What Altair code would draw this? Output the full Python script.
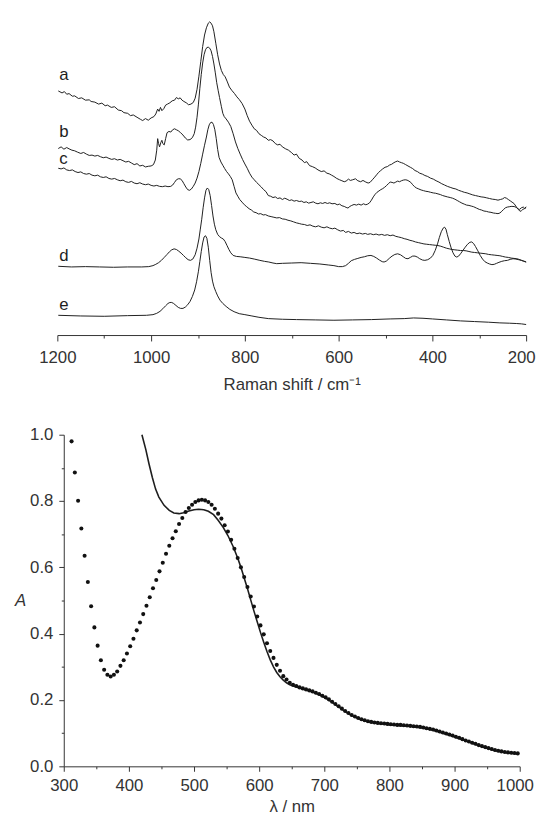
import altair as alt
import pandas as pd

# ---------------- Top panel: Raman spectra (intensity in arbitrary units) -------------
a_shift = [1198,1190,1185,1180,1175,1168,1163,1155,1148,1140,1132,1128,1120,1112,1105,1098,1093,1085,1078,1070,1063,1058,1050,1044,1038,1030,1023,1018,1012,1006,1000,994,990,986,983,980,977,973,969,965,960,955,950,946,942,938,934,930,925,920,915,910,906,902,898,894,890,886,882,878,875,872,869,866,862,858,854,850,846,842,838,833,828,822,817,812,806,800,795,790,785,780,775,770,765,760,755,750,745,740,735,730,725,720,713,707,700,695,690,684,678,673,668,662,656,650,644,637,631,625,620,615,610,604,598,593,588,584,579,575,570,564,559,553,548,542,537,533,528,523,519,515,511,506,501,496,491,487,482,478,474,470,466,462,457,452,447,442,437,432,427,421,416,410,404,398,392,386,380,374,368,362,356,350,344,338,332,326,320,314,308,302,296,290,284,278,272,266,260,255,250,246,242,238,234,230,226,222,218,214,210,206,203,200]
a_int = [74.0,73.4,73.8,73.0,73.2,72.4,72.5,71.7,71.9,71.2,71.3,70.8,70.6,70.0,70.3,69.5,69.7,69.0,69.2,68.2,68.0,67.4,67.2,66.5,66.7,66.0,65.4,65.0,65.6,65.1,65.8,66.2,67.0,68.5,67.8,69.0,68.0,68.6,69.7,70.0,70.4,71.0,71.2,72.0,71.6,71.9,71.2,70.8,70.4,69.8,70.0,70.5,71.8,74.5,78.5,83.0,87.5,91.0,93.2,94.6,95.0,94.6,93.8,92.0,88.5,85.0,82.2,80.2,79.0,78.3,77.0,75.2,74.2,73.2,72.2,71.4,70.2,68.5,66.5,64.8,63.6,62.5,62.0,61.0,60.5,60.0,59.7,59.0,59.2,58.8,58.0,57.6,57.8,57.0,56.4,56.0,55.2,54.5,54.8,53.5,53.0,52.2,52.5,51.3,51.0,50.6,50.0,49.5,49.7,49.0,48.8,48.4,48.0,47.4,47.0,46.7,46.4,46.6,47.2,46.8,47.0,47.3,46.7,46.4,46.8,46.3,46.0,46.2,47.0,47.8,48.5,49.2,49.7,50.3,50.8,51.0,51.5,51.7,52.2,52.5,52.7,52.4,52.2,52.0,51.6,51.2,50.8,50.4,49.8,49.5,49.0,48.7,48.3,48.0,47.5,47.2,46.7,46.3,45.8,45.4,45.0,44.7,44.4,44.2,43.8,43.5,43.2,43.0,42.7,42.4,42.2,42.0,41.8,41.7,41.5,41.3,41.1,41.0,40.8,41.0,41.2,41.6,41.4,41.0,40.6,40.2,39.8,39.0,38.2,38.0,38.5,38.7,38.3,38.8]

b_shift = [1198,1192,1186,1180,1175,1169,1163,1157,1150,1144,1138,1132,1126,1120,1114,1108,1102,1096,1090,1084,1078,1072,1066,1060,1054,1048,1042,1036,1030,1024,1018,1012,1006,1000,995,991,988,986,984,982,979,977,975,972,969,966,962,958,954,950,946,942,937,932,927,922,917,912,908,905,902,899,896,893,890,887,884,881,878,875,872,869,866,863,860,857,854,850,847,844,840,835,830,825,820,815,810,805,800,795,790,785,780,775,770,765,760,755,750,745,740,735,730,725,720,715,710,705,700,695,690,684,679,674,669,664,659,654,649,644,639,634,629,624,619,614,608,603,598,593,588,584,580,576,572,567,562,557,552,547,542,538,534,530,526,522,518,514,510,506,502,498,494,490,486,482,478,474,470,466,462,458,454,450,446,442,438,434,429,424,419,414,409,404,398,393,388,383,378,373,368,362,357,352,347,342,337,332,327,322,317,312,306,300,295,290,285,280,275,270,265,260,256,252,248,244,240,236,232,228,224,220,216,213,210,207,204,200]
b_int = [56.5,57.0,56.3,56.8,56.4,56.0,55.8,55.4,55.0,55.3,54.8,54.4,54.5,54.2,54.4,54.0,53.7,53.9,53.5,53.2,53.4,53.0,53.2,52.8,52.4,52.6,52.1,51.6,51.9,51.2,51.4,50.9,51.1,51.2,51.6,53.0,56.0,59.5,58.0,57.0,58.4,59.0,58.0,57.6,59.5,61.3,61.7,61.5,62.2,62.5,62.2,61.9,61.3,60.6,59.7,59.1,59.2,59.8,61.0,63.0,66.0,70.0,74.8,79.0,82.5,85.0,86.5,87.2,87.3,87.0,86.2,84.5,82.2,79.5,76.5,74.2,72.0,69.2,67.2,66.2,65.5,64.5,63.2,61.0,58.5,56.5,54.8,53.2,51.8,50.5,49.0,47.8,47.0,46.2,45.5,44.8,44.0,43.4,42.2,42.0,41.6,41.8,41.3,41.5,41.0,41.4,41.1,40.7,40.9,40.5,40.7,40.4,40.5,40.1,40.3,39.9,40.1,40.3,39.9,39.7,40.0,39.8,40.1,39.8,40.0,39.7,39.8,39.4,39.6,39.1,38.9,38.6,38.4,38.9,39.2,39.5,39.3,39.6,39.3,39.7,39.4,39.6,40.0,40.8,41.8,42.6,43.2,43.6,44.0,44.3,44.7,45.2,45.8,46.3,46.2,46.0,46.3,46.6,46.4,46.7,46.9,47.0,46.9,46.6,46.2,45.5,44.9,44.5,44.2,43.9,43.7,43.5,43.4,43.2,43.0,42.9,42.7,42.5,42.2,42.0,41.8,41.6,41.4,41.1,40.7,40.3,39.9,39.6,39.3,39.2,39.0,38.8,38.4,38.0,37.8,37.5,37.4,37.2,37.1,36.9,36.8,36.7,36.9,37.4,38.0,38.5,38.7,38.8,38.9,38.9,38.8,38.5,37.9,37.4,37.6,38.0,38.2,38.5]

c_shift = [1198,1192,1186,1180,1174,1168,1162,1156,1150,1144,1138,1132,1126,1120,1114,1108,1102,1096,1090,1084,1078,1072,1066,1060,1054,1048,1042,1036,1030,1024,1018,1012,1006,1000,994,988,982,976,970,964,958,954,950,946,942,938,934,930,926,922,918,914,910,906,902,898,894,890,886,882,879,876,873,870,867,864,861,858,855,851,847,843,839,835,831,827,823,819,815,811,806,801,796,791,786,781,776,771,766,761,756,750,744,738,732,726,720,714,708,702,696,690,684,679,673,667,661,655,649,643,637,631,625,619,613,608,602,596,590,585,579,573,567,561,555,549,543,538,532,526,520,514,508,502,496,490,484,478,472,466,460,454,448,442,436,430,424,418,412,406,400,394,388,382,376,370,364,358,352,346,340,334,328,322,316,310,304,298,292,286,280,274,268,262,256,250,244,238,232,226,220,215,210,205,200]
c_int = [50.5,50.3,50.6,50.0,49.8,50.0,49.5,49.2,49.4,48.9,48.7,48.9,48.4,48.2,48.4,47.9,47.7,47.9,47.4,47.2,47.4,47.0,46.7,46.9,46.4,46.2,46.5,46.0,45.8,46.1,45.7,45.5,45.7,45.3,45.1,45.3,45.0,44.9,45.1,44.9,45.0,45.4,46.2,47.0,47.3,47.3,46.8,45.8,44.8,44.0,43.8,44.2,45.0,46.0,47.5,49.5,52.0,54.8,57.5,60.0,62.2,63.7,64.4,64.5,63.8,62.2,59.5,56.2,53.8,52.4,51.4,50.4,49.5,48.8,48.0,47.0,45.0,43.0,42.0,41.0,40.2,39.4,38.8,38.2,37.8,37.2,37.0,36.6,36.7,36.3,36.4,36.0,35.8,35.6,35.4,35.5,35.1,35.0,34.7,34.5,34.2,33.9,33.7,33.5,33.4,33.1,33.3,32.9,32.7,33.0,32.6,32.4,32.7,32.3,32.1,32.3,31.8,31.4,31.6,31.0,31.3,30.8,31.0,30.6,30.8,30.5,30.7,30.4,30.6,30.3,30.5,30.2,30.4,30.1,30.3,30.0,30.2,29.8,29.6,29.4,29.1,28.9,28.6,28.4,28.1,27.9,27.7,27.5,27.4,27.3,27.2,27.1,27.0,26.8,26.5,26.2,26.0,25.8,25.7,25.6,25.5,25.5,25.4,25.2,25.0,24.9,24.8,24.7,24.6,24.5,24.3,24.2,24.1,24.0,23.9,23.7,23.5,23.4,23.2,23.1,23.0,22.8,22.5,22.3,22.0]

d_shift = [1198,1170,1140,1110,1080,1050,1020,1005,996,990,984,978,972,966,961,956,951,946,941,936,931,926,921,916,911,906,902,898,895,892,889,886,883,880,877,874,871,868,865,862,858,854,850,846,842,838,834,830,825,818,810,800,790,780,768,758,749,740,732,720,700,680,660,640,622,610,600,592,585,579,573,566,559,552,545,538,531,525,519,513,507,503,498,492,486,480,474,468,462,457,452,447,442,437,432,427,421,416,410,404,399,394,389,385,381,377,374,371,368,364,360,356,352,348,344,340,335,330,325,320,316,312,308,303,298,293,288,283,278,273,268,263,258,252,246,240,234,228,222,216,210,205,200]
d_int = [20.7,20.5,20.6,20.5,20.4,20.5,20.5,20.6,20.9,21.3,21.8,22.5,23.4,24.3,25.1,25.7,26.0,25.8,25.3,24.7,24.0,23.3,22.7,22.5,22.9,24.2,26.2,29.0,32.0,35.0,38.5,41.5,43.8,44.5,44.0,42.2,39.2,36.0,33.5,31.8,30.4,29.7,29.3,29.0,28.2,27.0,25.8,24.8,24.0,23.7,23.6,23.4,23.2,22.9,22.5,22.2,22.0,21.7,21.5,21.6,21.7,21.8,21.6,21.4,21.1,20.9,20.6,20.6,20.9,21.6,22.4,22.8,23.1,23.4,23.6,23.9,24.0,23.7,23.2,22.6,22.1,22.0,22.3,23.1,23.8,24.3,24.5,24.2,23.6,23.1,23.0,23.4,23.8,23.8,23.5,23.0,22.6,22.5,22.7,23.2,24.0,25.5,27.5,29.5,31.2,32.3,32.6,32.0,30.3,28.2,26.3,24.8,23.8,23.5,23.8,24.5,25.5,26.5,27.4,28.0,28.1,27.6,26.7,25.4,24.0,22.9,22.1,21.7,21.4,21.2,21.3,21.6,21.9,22.2,22.4,22.5,22.8,23.0,22.9,22.7,22.5,22.2,22.0]

e_shift = [1198,1150,1100,1050,1010,996,988,981,975,969,964,960,956,952,947,942,937,932,927,922,917,912,907,903,899,896,893,890,887,884,881,878,875,872,869,866,862,858,853,847,840,832,823,812,800,785,770,750,720,690,650,610,570,530,490,460,440,420,400,370,340,310,280,256,235,220,210,200]
e_int = [5.8,5.6,5.5,5.7,5.8,6.0,6.4,7.0,7.8,8.7,9.4,9.7,9.7,9.4,8.8,8.2,7.9,7.9,8.3,9.0,10.0,11.5,13.5,16.0,19.2,22.2,25.2,27.8,29.6,30.0,29.2,26.5,22.5,18.8,16.2,14.5,13.0,11.7,10.4,9.4,8.5,7.6,6.9,6.3,6.0,5.6,5.2,4.8,4.6,4.5,4.4,4.3,4.4,4.5,4.7,4.8,5.0,4.9,4.7,4.4,4.1,3.9,3.7,3.5,3.4,3.3,3.2,3.0]

trace_names = ["a", "b", "c", "d", "e"]
label_shift = [1196, 1196, 1196, 1196, 1196]
label_int = [77.2, 60.0, 51.8, 22.2, 7.5]

raman_ticks = [1200, 1000, 800, 600, 400, 200]
raman_minor = [1100, 900, 700, 500, 300]

# ---------------- Bottom panel: absorption spectra -------------
dot_wl = [312,317,322,327,332,337,342,347,352,357,362,367,372,377,382,387,392,397,402,407,412,417,422,427,432,437,442,447,452,457,462,467,472,477,482,487,492,497,502,507,512,517,522,527,532,537,542,547,552,557,562,567,572,577,582,587,592,597,602,607,612,617,622,627,632,637,642,647,652,657,662,667,672,677,682,687,692,697,702,707,712,717,722,727,732,737,742,747,752,757,762,767,772,777,782,787,792,797,802,807,812,817,822,827,832,837,842,847,852,857,862,867,872,877,882,887,892,897,902,907,912,917,922,927,932,937,942,947,952,957,962,967,972,977,982,987,992,997]
dot_abs = [0.980,0.886,0.801,0.717,0.635,0.556,0.483,0.419,0.364,0.320,0.291,0.276,0.271,0.276,0.286,0.303,0.320,0.340,0.362,0.385,0.410,0.434,0.459,0.484,0.510,0.537,0.562,0.588,0.614,0.641,0.665,0.688,0.709,0.731,0.749,0.767,0.779,0.789,0.797,0.802,0.804,0.802,0.797,0.789,0.777,0.762,0.747,0.727,0.708,0.683,0.656,0.628,0.600,0.571,0.541,0.512,0.482,0.452,0.425,0.398,0.371,0.348,0.327,0.306,0.288,0.272,0.262,0.252,0.246,0.242,0.238,0.235,0.232,0.229,0.226,0.222,0.218,0.213,0.208,0.202,0.195,0.188,0.181,0.174,0.167,0.161,0.155,0.150,0.146,0.142,0.139,0.136,0.134,0.132,0.131,0.130,0.129,0.128,0.127,0.126,0.125,0.125,0.124,0.123,0.122,0.121,0.120,0.119,0.117,0.115,0.113,0.111,0.108,0.105,0.102,0.099,0.096,0.093,0.089,0.086,0.082,0.078,0.075,0.071,0.068,0.064,0.061,0.058,0.055,0.052,0.049,0.047,0.045,0.043,0.042,0.041,0.040,0.039]

line_wl = [420,426,431,436,441,446,454,462,469,477,484,492,500,507,515,522,530,537,545,552,560,567,572,577,582,587,592,597,602,607,612,617,622,627,632,637,642,647,652,662,672,682,692,702,712,722,732,742,752,762,772,782,792,802,812,822,832,842,852,862,872,882,892,902,912,922,932,942,952,962,972,982,992,997]
line_abs = [1.000,0.955,0.911,0.871,0.836,0.812,0.787,0.772,0.764,0.762,0.765,0.770,0.774,0.775,0.774,0.769,0.759,0.742,0.720,0.696,0.663,0.628,0.600,0.568,0.536,0.502,0.468,0.436,0.404,0.374,0.346,0.321,0.300,0.283,0.270,0.260,0.252,0.246,0.242,0.236,0.230,0.224,0.216,0.206,0.193,0.179,0.165,0.153,0.144,0.137,0.132,0.129,0.127,0.125,0.123,0.122,0.120,0.118,0.115,0.111,0.106,0.100,0.094,0.087,0.080,0.073,0.066,0.059,0.053,0.047,0.043,0.040,0.038,0.037]

abs_x_ticks = [300, 400, 500, 600, 700, 800, 900, 1000]
abs_x_minor = [350, 450, 550, 650, 750, 850, 950]
abs_y_ticks = [0.0, 0.2, 0.4, 0.6, 0.8, 1.0]
abs_y_minor = [0.1, 0.3, 0.5, 0.7, 0.9]

# ---------------- build tables -------------
rows = []
for name, xs, ys in zip(trace_names,
                        [a_shift, b_shift, c_shift, d_shift, e_shift],
                        [a_int, b_int, c_int, d_int, e_int]):
    for x, y in zip(xs, ys):
        rows.append({"trace": name, "shift": x, "intensity": y})
raman = pd.DataFrame(rows)
labels = pd.DataFrame({"trace": trace_names, "shift": label_shift, "intensity": label_int})
dots = pd.DataFrame({"wl": dot_wl, "A": dot_abs})
solid = pd.DataFrame({"wl": line_wl, "A": line_abs})

INK = "#1e1e1e"
AX = "#333333"
FONT = "Liberation Sans"

xr_scale = alt.Scale(domain=[200, 1200], reverse=True, nice=False, zero=False)
yr_scale = alt.Scale(domain=[-0.2, 97.6], nice=False, zero=False)

major_raman_axis = alt.Axis(
    values=raman_ticks, format="d", title="Raman shift / cm⁻¹", tickSize=6, labelPadding=9,
    titlePadding=11, titleFontSize=17, titleFontWeight="normal", orient="bottom", grid=False,
    labelFlush=False,
    labelOffset={"condition": {"test": "datum.value == 200", "value": -5}, "value": 0},
)
minor_raman_axis = alt.Axis(values=raman_minor, labels=False, domain=False, tickSize=3,
                            title=None, orient="bottom", grid=False)

lines_top = alt.Chart(raman).mark_line(strokeWidth=1, color=INK).encode(
    x=alt.X("shift:Q", scale=xr_scale, axis=major_raman_axis),
    y=alt.Y("intensity:Q", scale=yr_scale, axis=None),
    detail="trace:N",
)
text_top = alt.Chart(labels).mark_text(align="left", baseline="alphabetic", fontSize=17,
                                       color=INK, font=FONT).encode(
    x=alt.X("shift:Q", scale=xr_scale, axis=minor_raman_axis),
    y=alt.Y("intensity:Q", scale=yr_scale, axis=None),
    text="trace:N",
)
top = alt.layer(lines_top, text_top).resolve_axis(x="independent").properties(width=475, height=326)

xa_scale = alt.Scale(domain=[300, 1000], nice=False, zero=False)
ya_scale = alt.Scale(domain=[0, 1], nice=False)

dots_layer = alt.Chart(dots).mark_circle(size=17, color="#111111", opacity=1).encode(
    x=alt.X("wl:Q", scale=xa_scale,
            axis=alt.Axis(values=abs_x_ticks, format="d", title="λ / nm", tickSize=5, labelPadding=6,
                          titlePadding=6, titleFontSize=17, titleFontWeight="normal",
                          orient="bottom", grid=False, labelFlush=False,
                          labelOffset={"condition": {"test": "datum.value == 1000", "value": -5}, "value": 0})),
    y=alt.Y("A:Q", scale=ya_scale,
            axis=alt.Axis(values=abs_y_ticks, format=".1f", title="A", titleAngle=0,
                          titleFontStyle="italic", titleFontWeight="normal", titleFontSize=17,
                          titleAlign="right", titleBaseline="middle", titlePadding=4,
                          tickSize=5, labelPadding=6, orient="left", grid=False)),
)
solid_layer = alt.Chart(solid).mark_line(strokeWidth=1.6, color=INK).encode(
    x=alt.X("wl:Q", scale=xa_scale,
            axis=alt.Axis(values=abs_x_minor, labels=False, domain=False, tickSize=2.5,
                          title=None, orient="bottom", grid=False)),
    y=alt.Y("A:Q", scale=ya_scale,
            axis=alt.Axis(values=abs_y_minor, labels=False, domain=False, tickSize=2.5,
                          title=None, orient="left", grid=False)),
)
bottom = alt.layer(solid_layer, dots_layer).resolve_axis(x="independent", y="independent").properties(
    width=462, height=336)

chart = alt.vconcat(top, bottom, spacing=101, bounds="flush", center=True).properties(
    padding={"left": 6, "top": 0, "right": 0, "bottom": 0}
).configure(
    font=FONT, background="white"
).configure_view(
    stroke=None
).configure_axis(
    grid=False, ticks=True, labelFont=FONT, titleFont=FONT,
    labelFontSize=17, labelColor=AX, titleColor=AX, domainColor=AX, tickColor=AX,
    domainWidth=1, tickWidth=1,
)

chart.save("out.html", embed_options={"renderer": "svg", "actions": False})
